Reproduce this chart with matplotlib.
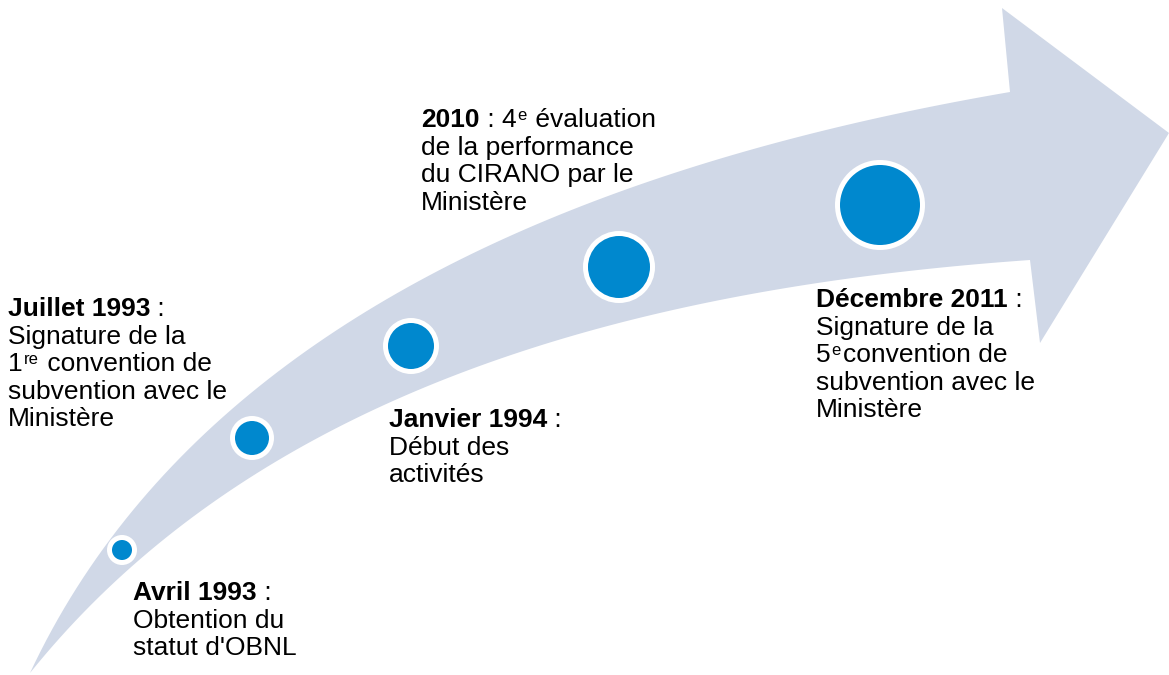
#%%
# Timeline arrow - CIRANO milestones
import numpy as np
import matplotlib.pyplot as plt
from matplotlib.patches import Circle

plt.rcParams['font.family'] = ['Liberation Sans', 'DejaVu Sans']

#%%
# milestones along the arrow (pixel positions)
dot_x = [122, 252, 411, 619, 880]
dot_y = [550, 438, 346, 267, 205]
dot_r = [10, 17, 23, 31, 40]

# edges of the arrow shaft
upper_x = [30, 70, 110, 150, 200, 267, 333, 400, 450, 550, 650, 750, 800, 1010]
upper_y = [673, 600, 535, 483, 440, 383, 333, 293, 263, 220, 180, 150, 137, 92]
lower_x = [30, 70, 120, 163, 220, 267, 333, 400, 450, 500, 550, 650, 750, 800, 1030]
lower_y = [673, 627, 580, 540, 500, 463, 427, 400, 378, 360, 340, 313, 297, 287, 260]
# arrow head corners
head_x = [1002, 1169, 1040]
head_y = [8, 133, 343]

# text of each milestone: one list per line, runs of (text, kind)
# kind: b = bold, r = regular, s = superscript
labels = [
    [[("Juillet 1993", 'b'), (" :", 'r')],
     [("Signature de la", 'r')],
     [("1", 'r'), ("re", 's'), (" convention de", 'r')],
     [("subvention avec le", 'r')],
     [("Ministère", 'r')]],
    [[("Avril 1993", 'b'), (" :", 'r')],
     [("Obtention du", 'r')],
     [("statut d'OBNL", 'r')]],
    [[("Janvier 1994", 'b'), (" :", 'r')],
     [("Début des", 'r')],
     [("activités", 'r')]],
    [[("2010", 'b'), (" : 4", 'r'), ("e", 's'), (" évaluation", 'r')],
     [("de la performance", 'r')],
     [("du CIRANO par le", 'r')],
     [("Ministère", 'r')]],
    [[("Décembre 2011", 'b'), (" :", 'r')],
     [("Signature de la", 'r')],
     [("5", 'r'), ("e", 's'), ("convention de", 'r')],
     [("subvention avec le", 'r')],
     [("Ministère", 'r')]],
]
label_x = [8, 133, 389, 421, 816]
label_y = [316, 600, 427, 127, 307]   # baseline of first line
line_step = 27.6

arrow_col = '#d0d8e7'
dot_col = '#0088ce'
fsize = 19
sup_size = 12


#%%
def bezier_fit(xs, ys, n=100):
    # least squares cubic bezier through the traced points (ends fixed)
    pts = np.column_stack([xs, ys]).astype(float)
    d = np.r_[0, np.cumsum(np.hypot(*np.diff(pts, axis=0).T))]
    t = d / d[-1]
    rhs = pts - np.outer((1-t)**3, pts[0]) - np.outer(t**3, pts[-1])
    A = np.column_stack([3*(1-t)**2*t, 3*(1-t)*t**2])
    ctrl = np.linalg.lstsq(A, rhs, rcond=None)[0]
    s = np.linspace(0, 1, n)
    return (np.outer((1-s)**3, pts[0]) + np.outer(3*(1-s)**2*s, ctrl[0])
            + np.outer(3*(1-s)*s**2, ctrl[1]) + np.outer(s**3, pts[-1]))


up = bezier_fit(upper_x, upper_y)
low = bezier_fit(lower_x, lower_y)
shape = np.vstack([up, np.column_stack([head_x, head_y]), low[::-1]])

#%%
fig = plt.figure(figsize=(11.69, 6.75), dpi=100)
ax = fig.add_axes([0, 0, 1, 1])
ax.set_xlim(0, 1169)
ax.set_ylim(675, 0)
ax.axis('off')

ax.fill(shape[:, 0], shape[:, 1], color=arrow_col, lw=0, zorder=1)

for x, y, r in zip(dot_x, dot_y, dot_r):
    ax.add_patch(Circle((x, y), r + 5, color='white', lw=0, zorder=2))
    ax.add_patch(Circle((x, y), r, color=dot_col, lw=0, zorder=3))

renderer = fig.canvas.get_renderer()
inv = ax.transData.inverted()
for lines, x, y in zip(labels, label_x, label_y):
    for i, runs in enumerate(lines):
        cx = x
        base = y + i*line_step
        for txt, kind in runs:
            if kind == 's':
                t = ax.text(cx + 1, base - 7, txt, fontsize=sup_size, color='black',
                            ha='left', va='baseline', zorder=4)
            else:
                t = ax.text(cx, base, txt, fontsize=fsize, color='black',
                            fontweight='bold' if kind == 'b' else 'normal',
                            ha='left', va='baseline', zorder=4)
            bb = t.get_window_extent(renderer)
            cx = inv.transform((bb.x1, bb.y0))[0]
            if kind == 's':
                cx += 2   # small gap after the superscript

fig.savefig('out.png', dpi=100)
